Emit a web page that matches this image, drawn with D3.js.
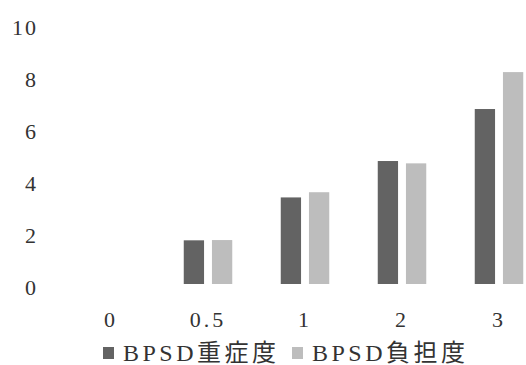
<!DOCTYPE html>
<html>
<head>
<meta charset="utf-8">
<script src="https://cdn.jsdelivr.net/npm/d3@7"></script>
<style>
  html, body { margin: 0; padding: 0; background: #fff; }
  svg { display: block; }
</style>
</head>
<body>
<div id="chart"></div>
<script>
const categories = ["0", "0.5", "1", "2", "3"];
const seriesNames = ["BPSD重症度", "BPSD負担度"];
const severity = [0, 1.68, 3.33, 4.73, 6.73];
const burden = [0, 1.69, 3.53, 4.64, 8.15];
const yTicks = [0, 2, 4, 6, 8, 10];
const colors = ["#636363", "#bdbdbd"];
const FONT = '"Liberation Serif", "Noto Sans CJK JP", serif';

const W = 526, H = 365;
const svg = d3.select("#chart").append("svg").attr("width", W).attr("height", H);

const y = d3.scaleLinear().domain([0, 10]).range([284, 24]);
const x0 = d3.scaleBand().domain(categories).range([62.5, 62.5 + 97 * categories.length])
  .paddingInner(0.5).paddingOuter(0.25);
const x1 = d3.scaleBand().domain(seriesNames).range([0, x0.bandwidth()]).paddingInner(0.28);

const rows = categories.map((c, i) => ({ cat: c, vals: [severity[i], burden[i]] }));

// bars
const g = svg.append("g");
g.selectAll("g.grp").data(rows).join("g")
  .attr("class", "grp")
  .attr("transform", d => `translate(${x0(d.cat)},0)`)
  .selectAll("rect").data(d => d.vals.map((v, j) => ({ name: seriesNames[j], v, j })))
  .join("rect")
  .attr("x", d => x1(d.name))
  .attr("width", x1.bandwidth())
  .attr("y", d => y(d.v))
  .attr("height", d => y(0) - y(d.v))
  .attr("fill", d => colors[d.j]);

// y axis
const yAxis = d3.axisLeft(y).tickValues(yTicks).tickSize(0).tickPadding(0).tickFormat(d3.format("d"));
const ya = svg.append("g").attr("transform", "translate(38,0)").call(yAxis);
ya.select(".domain").remove();
ya.selectAll("text").style("font-family", FONT).style("font-size", "22px").style("letter-spacing", "2px")
  .attr("dy", "0.48em").attr("fill", "#333");

// x axis
const xAxis = d3.axisBottom(x0).tickSize(0).tickPadding(0);
const xa = svg.append("g").attr("transform", "translate(0,311)").call(xAxis);
xa.select(".domain").remove();
xa.selectAll("text").style("font-family", FONT).style("font-size", "22px").style("letter-spacing", "3px")
  .attr("dy", "0.71em").attr("fill", "#333");

// legend
const legend = svg.append("g");
const legX = [103, 292];
seriesNames.forEach((name, i) => {
  legend.append("rect").attr("x", legX[i]).attr("y", 347).attr("width", 11).attr("height", 12)
    .attr("fill", colors[i]);
  legend.append("text").attr("x", legX[i] + 20).attr("y", 361)
    .style("font-family", FONT).attr("fill", "#333")
    .style("font-size", "24px").style("letter-spacing", "3.5px").text(name);
});
</script>
</body>
</html>
